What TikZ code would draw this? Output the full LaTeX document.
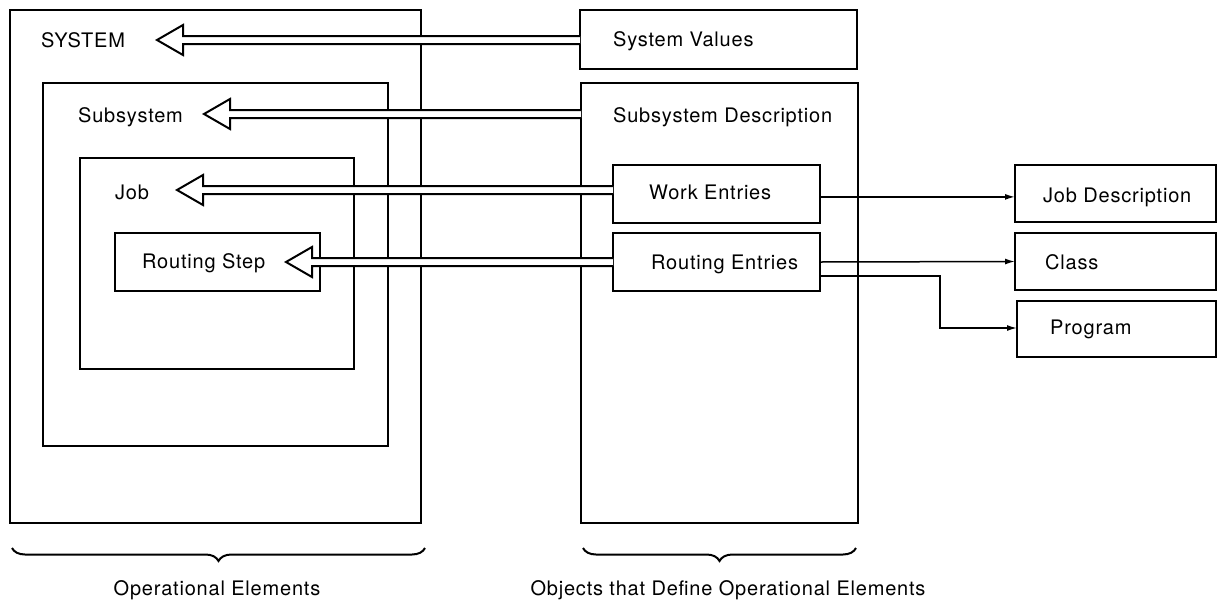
\documentclass[tikz,border=0pt]{standalone}
\usepackage{fontspec}
\setmainfont{TeX Gyre Heros}[LetterSpace=4]
\usetikzlibrary{calc,arrows.meta,decorations.pathreplacing}
\begin{document}
\begin{tikzpicture}[x=1pt,y=-1pt,
  box/.style={draw, line width=2.6pt, rectangle, inner sep=0pt, outer sep=0pt, anchor=north west},
  lbl/.style={anchor=base west, inner sep=0pt, font=\fontsize{20}{24}\selectfont},
  caplbl/.style={anchor=base, inner sep=0pt, font=\fontsize{20}{24}\selectfont},
  pipe/.style={draw, line width=2pt, fill=white, line join=miter,
    to path={let \p1=(\tikztostart), \p2=(\tikztotarget) in
      (\x1,\y1+4pt) -- (\x2+26pt,\y1+4pt) -- (\x2+26pt,\y1+15pt) -- (\x2,\y1)
      -- (\x2+26pt,\y1-15pt) -- (\x2+26pt,\y1-4pt) -- (\x1,\y1-4pt)}},
  link/.style={draw, line width=1.5pt, -{Latex[length=10pt,width=6pt]}},
  bracestyle/.style={draw, line width=2pt, decorate, decoration={brace, mirror, amplitude=13pt}}
]
\useasboundingbox (0,0) rectangle (1224,603);

% left nested boxes
\node[box, minimum width=411pt, minimum height=513pt] (sysbox) at (10,10) {};
\node[box, minimum width=345pt, minimum height=363pt] (subbox) at (43,83) {};
\node[box, minimum width=274pt, minimum height=211pt] (jobbox) at (80,158) {};
\node[box, minimum width=205pt, minimum height=58pt] (rsbox) at (115,233) {};

% right column boxes
\node[box, minimum width=277pt, minimum height=59pt] (sv) at (580,10) {};
\node[box, minimum width=277pt, minimum height=440pt] (ssd) at (581,83) {};
\node[box, minimum width=207pt, minimum height=58pt] (we) at (613,165) {};
\node[box, minimum width=207pt, minimum height=58pt] (re) at (613,233) {};
\node[box, minimum width=201pt, minimum height=57pt] (jd) at (1015,165) {};
\node[box, minimum width=201pt, minimum height=57pt] (cls) at (1015,233) {};
\node[box, minimum width=199pt, minimum height=56pt] (prog) at (1017,301) {};

% texts
\node[lbl] (tsys) at (41,47) {SYSTEM};
\node[lbl] (tsub) at (78,122) {Subsystem};
\node[lbl] (tjob) at (115,199) {Job};
\node[lbl] (trs) at (142,268) {Routing Step};
\node[lbl] (tsv) at (613,46) {System Values};
\node[lbl] (tssd) at (613,122) {Subsystem Description};
\node[lbl] (twe) at (649,199) {Work Entries};
\node[lbl] (tre) at (651,269) {Routing Entries};
\node[lbl] (tjd) at (1043,202) {Job Description};
\node[lbl] (tcls) at (1045,269) {Class};
\node[lbl] (tprog) at (1050,334) {Program};

% arrow tips
\coordinate (tipSys) at (157,40);
\coordinate (tipSub) at (204,114);
\coordinate (tipJob) at (177,190);
\coordinate (tipRS) at (286,262);

% hollow double arrows
\draw[pipe] (sv.west |- tipSys) to (tipSys);
\draw[pipe] (ssd.west |- tipSub) to (tipSub);
\draw[pipe] (we.west |- tipJob) to (tipJob);
\draw[pipe] (re.west |- tipRS) to (tipRS);

% thin connectors
\draw[link] (we.east |- tjd.west) -- (jd.west |- tjd.west);
\coordinate (bend) at (940,328);
\draw[link] ([yshift=-14pt]re.east) -| (bend) -- (prog.west |- bend);
\draw[link] (re.east) -- (cls.west);

% braces
\draw[bracestyle] ([xshift=2pt,yshift=-25pt]sysbox.south west) -- ([xshift=4pt,yshift=-25pt]sysbox.south east);
\draw[bracestyle] ([xshift=2pt,yshift=-25pt]ssd.south west) -- ([xshift=-2pt,yshift=-25pt]ssd.south east);

\node[caplbl] (lopel) at (217,595) {Operational Elements};
\node[caplbl] (lobj) at (728,595) {Objects that Define Operational Elements};
\end{tikzpicture}
\end{document}
